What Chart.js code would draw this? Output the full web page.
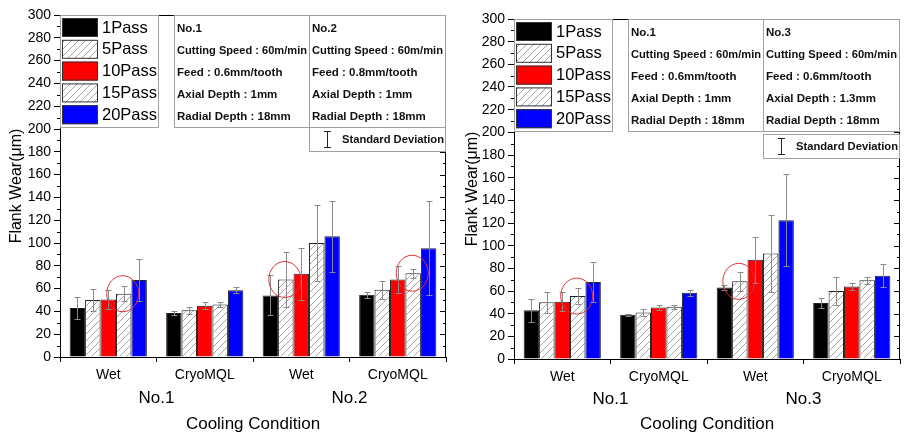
<!DOCTYPE html>
<html>
<head>
<meta charset="utf-8">
<script src="https://cdn.jsdelivr.net/npm/chart.js@4.4.1/dist/chart.umd.min.js"></script>
<style>
  body { margin: 0; background: #fff; }
  .wrap { display: flex; width: 919px; height: 435px; overflow: hidden; }
  .panel { position: relative; width: 460px; height: 435px; flex: none; }
  .panel + .panel { margin-left: -1px; }
</style>
</head>
<body>
<div class="wrap">
  <div class="panel"><canvas id="chartLeft" width="460" height="435"></canvas></div>
  <div class="panel"><canvas id="chartRight" width="460" height="435"></canvas></div>
</div>
<script>
// Categories and labels
const categories = ['Wet', 'CryoMQL', 'Wet', 'CryoMQL'];
const passLabels = ['1Pass', '5Pass', '10Pass', '15Pass', '20Pass'];
const groupLabelsLeft = ['No.1', 'No.2'];
const groupLabelsRight = ['No.1', 'No.3'];

// Left chart (No.1 / No.2) - mean flank wear (um)
const pass1Left = [43, 38.5, 54, 54.5];
const pass5Left = [50, 41, 68, 59];
const pass10Left = [50.5, 45, 73, 68];
const pass15Left = [55.5, 46, 100, 73.5];
const pass20Left = [67.5, 58.5, 106, 95.5];
// Left chart standard deviations
const sd1Left = [10, 1.5, 17.5, 2.5];
const sd5Left = [9.5, 3, 24, 8];
const sd10Left = [8.5, 3, 23, 12];
const sd15Left = [6.5, 2, 33, 4];
const sd20Left = [18.5, 2.5, 31, 41];

// Right chart (No.1 / No.3)
const pass1Right = [43, 39, 63, 49.5];
const pass5Right = [50, 41, 68.5, 60];
const pass10Right = [50.5, 45.5, 87.5, 64];
const pass15Right = [55.5, 46, 93, 69.5];
const pass20Right = [68, 58.5, 122.5, 73.5];
const sd1Right = [10, 1, 2.5, 4.5];
const sd5Right = [9.5, 3, 8.5, 12.5];
const sd10Right = [8.5, 2.5, 20, 3.5];
const sd15Right = [7, 2, 34, 3];
const sd20Right = [18, 2.5, 40.5, 10];

// Condition boxes
const infoNo1 = ['No.1', 'Cutting Speed : 60m/min', 'Feed : 0.6mm/tooth', 'Axial Depth : 1mm', 'Radial Depth : 18mm'];
const infoNo2 = ['No.2', 'Cutting Speed : 60m/min', 'Feed : 0.8mm/tooth', 'Axial Depth : 1mm', 'Radial Depth : 18mm'];
const infoNo3 = ['No.3', 'Cutting Speed : 60m/min', 'Feed : 0.6mm/tooth', 'Axial Depth : 1.3mm', 'Radial Depth : 18mm'];

// Highlight circles: [category index, series index]
const circlesLeft = [[0, 3], [2, 1], [3, 3]];
const circlesRight = [[0, 3], [2, 1]];

const FONT = 'Arial, "Liberation Sans", sans-serif';

// Diagonal hatch used by 5Pass and 15Pass bars
function makeHatch() {
    const c = document.createElement('canvas');
    c.width = 7; c.height = 7;
    const g = c.getContext('2d');
    g.fillStyle = '#fff';
    g.fillRect(0, 0, 7, 7);
    g.strokeStyle = '#a5a5a5';
    g.lineWidth = 1;
    g.beginPath();
    g.moveTo(0, 7); g.lineTo(7, 0);
    g.moveTo(-1, 1); g.lineTo(1, -1);
    g.moveTo(6, 8); g.lineTo(8, 6);
    g.stroke();
    return g.createPattern(c, 'repeat');
}
const hatch = makeHatch();
const fills = ['#000000', hatch, '#ff0000', hatch, '#0000ff'];

// Draw error bars from dataset.errors
const errorBarPlugin = {
    id: 'errorBars',
    afterDatasetsDraw(chart) {
        const ctx = chart.ctx;
        const y = chart.scales.y;
        ctx.save();
        ctx.strokeStyle = '#8a8a8a';
        ctx.lineWidth = 1;
        chart.data.datasets.forEach((ds, i) => {
            const meta = chart.getDatasetMeta(i);
            meta.data.forEach((bar, j) => {
                const v = ds.data[j], e = ds.errors[j];
                const x = Math.round(bar.x) + 0.5;
                const top = Math.round(y.getPixelForValue(v + e)) + 0.5;
                const bot = Math.round(y.getPixelForValue(v - e)) + 0.5;
                ctx.beginPath();
                ctx.moveTo(x, top); ctx.lineTo(x, bot);
                ctx.moveTo(x - 3, top); ctx.lineTo(x + 3, top);
                ctx.moveTo(x - 3, bot); ctx.lineTo(x + 3, bot);
                ctx.stroke();
            });
        });
        ctx.restore();
    }
};

// Frame, minor ticks, group labels, legend, info boxes and circles
const decorPlugin = {
    id: 'decor',
    afterDraw(chart, args, opts) {
        const ctx = chart.ctx;
        const area = chart.chartArea;
        const y = chart.scales.y;
        const x = chart.scales.x;
        ctx.save();

        // frame top + right
        ctx.strokeStyle = '#000';
        ctx.lineWidth = 1;
        ctx.beginPath();
        ctx.moveTo(area.left, area.top + 0.5); ctx.lineTo(area.right, area.top + 0.5);
        ctx.moveTo(area.right - 0.5, area.top); ctx.lineTo(area.right - 0.5, area.bottom);
        ctx.stroke();

        // y ticks: minor on left, major/minor inward on right
        ctx.beginPath();
        for (let v = 0; v <= 300; v += 10) {
            const py = Math.round(y.getPixelForValue(v)) + 0.5;
            const major = v % 20 === 0;
            if (!major) { ctx.moveTo(area.left - 3, py); ctx.lineTo(area.left, py); }
            ctx.moveTo(area.right - (major ? 6 : 3), py); ctx.lineTo(area.right, py);
        }
        ctx.stroke();

        // group labels under pairs of categories
        ctx.fillStyle = '#000';
        ctx.font = '17px ' + FONT;
        ctx.textAlign = 'center';
        ctx.textBaseline = 'middle';
        opts.groups.forEach((label, k) => {
            const gx = (x.getPixelForValue(2 * k) + x.getPixelForValue(2 * k + 1)) / 2;
            ctx.fillText(label, gx, opts.groupY);
        });

        // legend box
        const L = area.left, T = area.top;
        ctx.fillStyle = '#fff';
        ctx.strokeStyle = '#a0a0a0';
        ctx.fillRect(L, T, 98, 112);
        ctx.strokeRect(L + 0.5, T + 0.5, 98, 112);
        ctx.font = '16.5px ' + FONT;
        ctx.textAlign = 'left';
        chart.data.datasets.forEach((ds, i) => {
            const ry = T + 3 + i * 21.8;
            ctx.fillStyle = ds.backgroundColor;
            ctx.fillRect(L + 2, ry, 36, 19);
            ctx.strokeStyle = '#333';
            ctx.strokeRect(L + 2.5, ry + 0.5, 35, 18);
            ctx.fillStyle = '#000';
            ctx.fillText(ds.label, L + 42, ry + 10);
        });

        // condition boxes
        const boxes = [[L + 114, 135, opts.info1], [L + 249, 136, opts.info2]];
        ctx.font = 'bold 11.5px ' + FONT;
        boxes.forEach(([bx, bw, lines]) => {
            ctx.fillStyle = '#fff';
            ctx.fillRect(bx, T, bw, 112);
            ctx.strokeStyle = '#a0a0a0';
            ctx.strokeRect(bx + 0.5, T + 0.5, bw, 112);
            ctx.fillStyle = '#111';
            lines.forEach((t, k) => ctx.fillText(t, bx + 3, T + 14 + k * 22, bw - 5));
        });

        // standard deviation box
        const sx = L + 249, sy = T + opts.sdTop;
        ctx.fillStyle = '#fff';
        ctx.fillRect(sx, sy, 136, 24);
        ctx.strokeStyle = '#a0a0a0';
        ctx.strokeRect(sx + 0.5, sy + 0.5, 136, 24);
        ctx.strokeStyle = '#222';
        ctx.beginPath();
        ctx.moveTo(sx + 18.5, sy + 4); ctx.lineTo(sx + 18.5, sy + 21);
        ctx.moveTo(sx + 15, sy + 4.5); ctx.lineTo(sx + 22, sy + 4.5);
        ctx.moveTo(sx + 15, sy + 20.5); ctx.lineTo(sx + 22, sy + 20.5);
        ctx.stroke();
        ctx.fillStyle = '#111';
        ctx.fillText('Standard Deviation', sx + 33, sy + 13, 102);

        // red highlight circles
        ctx.strokeStyle = '#e0303a';
        ctx.lineWidth = 1;
        opts.circles.forEach(([ci, si]) => {
            const bar = chart.getDatasetMeta(si).data[ci];
            ctx.beginPath();
            ctx.ellipse(bar.x - 1, bar.y, 16, 18, 0, 0, Math.PI * 2);
            ctx.stroke();
        });
        ctx.restore();
    }
};

function buildChart(canvasId, values, errors, p) {
    const datasets = passLabels.map((label, i) => ({
        label: label,
        data: values[i],
        errors: errors[i],
        backgroundColor: fills[i],
        borderColor: '#222',
        borderWidth: 1,
        categoryPercentage: 0.8,
        barPercentage: 1.0
    }));
    return new Chart(document.getElementById(canvasId), {
        type: 'bar',
        data: { labels: categories, datasets: datasets },
        options: {
            responsive: false,
            animation: false,
            layout: { padding: { top: p.top, right: p.right, left: 0, bottom: 0 } },
            plugins: {
                legend: { display: false },
                tooltip: { enabled: false },
                decor: {
                    groups: p.groups, groupY: p.groupY,
                    info1: infoNo1, info2: p.info2,
                    sdTop: p.sdTop, circles: p.circles
                }
            },
            scales: {
                x: {
                    afterFit: scale => { scale.height = p.xHeight; },
                    grid: { drawOnChartArea: false, tickLength: 5, color: '#000', offset: true },
                    border: { color: '#000', width: 1 },
                    ticks: { color: '#000', font: { family: FONT, size: 14 }, padding: 5 },
                    title: {
                        display: true, text: 'Cooling Condition', color: '#000',
                        font: { family: FONT, size: 17 }, padding: { top: 0, bottom: 0 }
                    }
                },
                y: {
                    min: 0, max: 300,
                    afterFit: scale => { scale.width = p.yWidth; },
                    grid: { drawOnChartArea: false, tickLength: 6, color: '#000' },
                    border: { color: '#000', width: 1 },
                    ticks: { stepSize: 20, color: '#000', font: { family: FONT, size: 14 }, padding: 3 },
                    title: {
                        display: true, text: 'Flank Wear(\u03bcm)', color: '#000',
                        font: { family: FONT, size: 16 }, padding: { top: p.yTitlePad, bottom: 0 }
                    }
                }
            }
        },
        plugins: [errorBarPlugin, decorPlugin]
    });
}

buildChart('chartLeft',
    [pass1Left, pass5Left, pass10Left, pass15Left, pass20Left],
    [sd1Left, sd5Left, sd10Left, sd15Left, sd20Left],
    { top: 15, right: 14, yWidth: 60, xHeight: 78, groups: groupLabelsLeft, groupY: 398,
      info2: infoNo2, sdTop: 112, circles: circlesLeft, yTitlePad: 7 });

buildChart('chartRight',
    [pass1Right, pass5Right, pass10Right, pass15Right, pass20Right],
    [sd1Right, sd5Right, sd10Right, sd15Right, sd20Right],
    { top: 19, right: 19, yWidth: 55, xHeight: 76, groups: groupLabelsRight, groupY: 399,
      info2: infoNo3, sdTop: 115, circles: circlesRight, yTitlePad: 4 });
</script>
</body>
</html>
